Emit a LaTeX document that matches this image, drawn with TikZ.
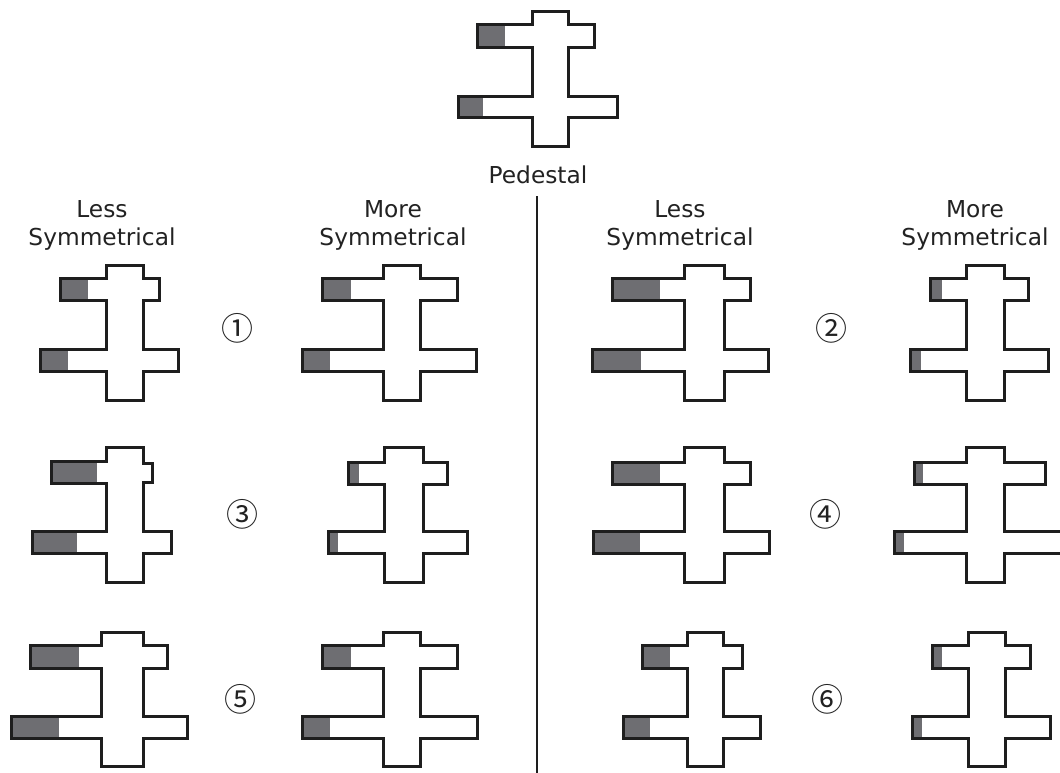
\documentclass[tikz,border=0pt]{standalone}
\usepackage{fontspec}
\setmainfont{DejaVu Sans}
\newfontfamily\numfont{Noto Sans CJK SC}
\definecolor{outlinec}{HTML}{1E1E1E}
\definecolor{grayc}{HTML}{6E6E72}
\definecolor{textc}{HTML}{222222}
\newcommand\setrow[6]{\def\rT{#1}\def\rUa{#2}\def\rUb{#3}\def\rLa{#4}\def\rLb{#5}\def\rB{#6}}
% sL sR uL uR lL lR ug lg
\newcommand\pedshape[8]{%
  \fill[grayfill] (#3,\rUa) rectangle (#7,\rUb);
  \fill[grayfill] (#5,\rLa) rectangle (#8,\rLb);
  \draw[outline] (#1,\rT) -- (#2,\rT) -- (#2,\rUa) -- (#4,\rUa) -- (#4,\rUb) -- (#2,\rUb)
    -- (#2,\rLa) -- (#6,\rLa) -- (#6,\rLb) -- (#2,\rLb) -- (#2,\rB) -- (#1,\rB)
    -- (#1,\rLb) -- (#5,\rLb) -- (#5,\rLa) -- (#1,\rLa) -- (#1,\rUb) -- (#3,\rUb)
    -- (#3,\rUa) -- (#1,\rUa) -- cycle;
}
\begin{document}
\begin{tikzpicture}[x=1pt,y=-1pt,
  outline/.style={draw=outlinec,line width=3pt,line join=miter},
  grayfill/.style={fill=grayc},
  lbl/.style={text=textc,font=\fontsize{23.3}{28}\selectfont,inner sep=0pt,anchor=base},
  num/.style={text=textc,font=\numfont\fontsize{32}{38}\selectfont,inner sep=0pt}]
\useasboundingbox (0,0) rectangle (1060,773);
\clip (0,0) rectangle (1060,773);
\fill[white] (0,0) rectangle (1060,773);

% Pedestal
\setrow{12}{25}{48}{97}{118}{147}
\pedshape{532}{568}{477}{594}{458}{617}{505}{483}
\node[lbl] (ped) at (538,183) {Pedestal};

% divider
\coordinate (dtop) at (537,196);
\coordinate (dbot) at (537,773);
\draw[outlinec,line width=1.3pt] (dtop) -- (dbot);

% headers
\node[lbl] (lessA) at (102,217) {Less};
\node[lbl] (symA) at (102,245) {Symmetrical};
\node[lbl] (moreA) at (393,217) {More};
\node[lbl] (symB) at (393,245) {Symmetrical};
\node[lbl] (lessB) at (680,217) {Less};
\node[lbl] (symC) at (680,245) {Symmetrical};
\node[lbl] (moreB) at (975,217) {More};
\node[lbl] (symD) at (975,245) {Symmetrical};

% Row 1
\setrow{265}{278}{300}{349}{371}{400}
\pedshape{106}{143}{60}{159}{40}{178}{88}{68}
\pedshape{383}{420}{322}{457}{302}{476}{351}{330}
\pedshape{684}{724}{612}{750}{592}{768}{660}{641}
\pedshape{966}{1004}{930}{1028}{910}{1048}{942}{921}

% Row 2
\setrow{447}{462}{484}{531}{553}{582}
% 3 less (notched upper arm)
\fill[grayfill] (51,461) rectangle (97,483);
\fill[grayfill] (32,531) rectangle (77,553);
\draw[outline] (106,447) -- (143,447) -- (143,463) -- (152,463) -- (152,482) -- (143,482)
  -- (143,531) -- (171,531) -- (171,553) -- (143,553) -- (143,582) -- (106,582)
  -- (106,553) -- (32,553) -- (32,531) -- (106,531) -- (106,483) -- (51,483)
  -- (51,461) -- (106,461) -- cycle;
\pedshape{384}{423}{348}{447}{328}{467}{359}{338}
\pedshape{684}{724}{612}{750}{593}{769}{660}{640}
\pedshape{966}{1004}{914}{1045}{894}{1075}{923}{904}

% Row 3
\setrow{632}{645}{668}{716}{738}{766}
\pedshape{101}{143}{30}{167}{11}{187}{79}{59}
\pedshape{383}{420}{322}{457}{302}{477}{351}{330}
\pedshape{687}{723}{642}{742}{623}{760}{670}{650}
\pedshape{968}{1005}{932}{1030}{912}{1050}{942}{922}

% circled numbers
\node[num] (n1) at (237,328) {①};
\node[num] (n2) at (831,328) {②};
\node[num] (n3) at (242,514) {③};
\node[num] (n4) at (825,514) {④};
\node[num] (n5) at (240,699) {⑤};
\node[num] (n6) at (827,699) {⑥};
\end{tikzpicture}
\end{document}
